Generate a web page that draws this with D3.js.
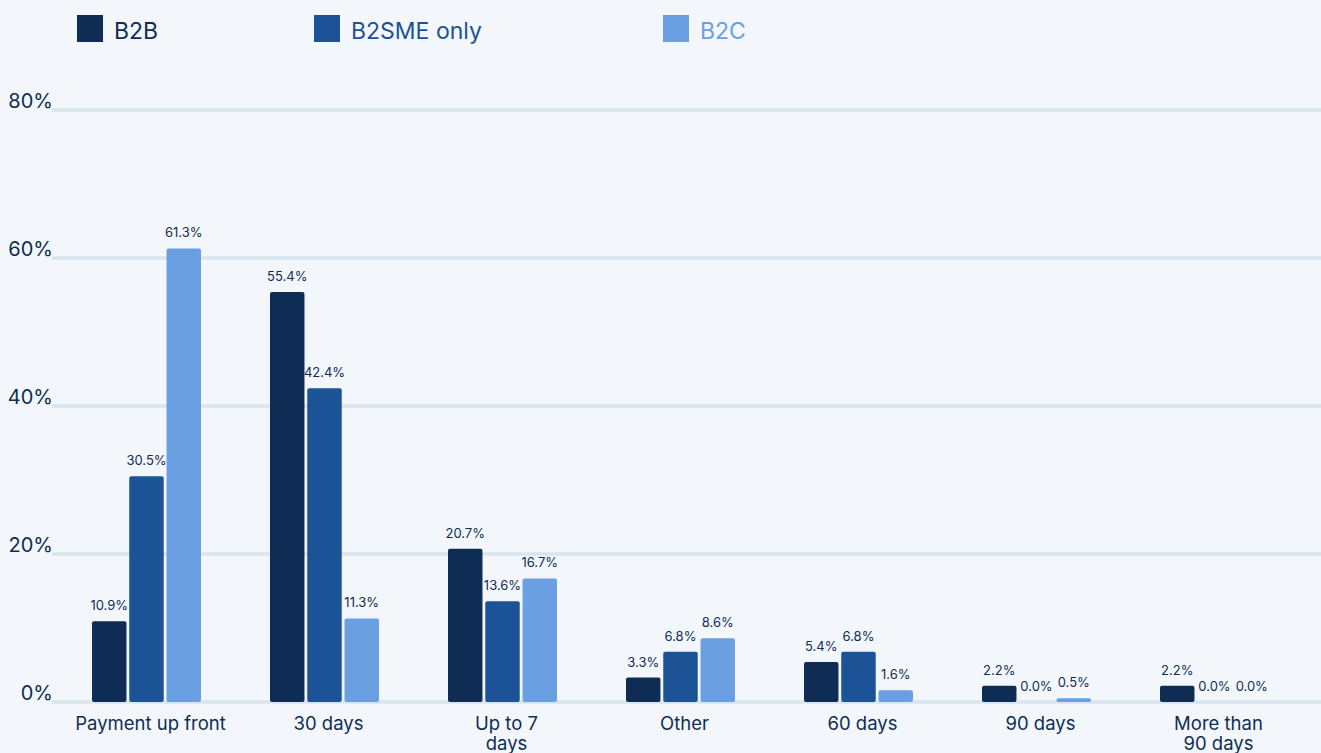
<!DOCTYPE html>
<html><head><meta charset="utf-8">
<script src="https://cdn.jsdelivr.net/npm/d3@7"></script>
<style>
html,body{margin:0;padding:0;background:#f3f7fc;}
svg{display:block;font-family:Inter,"Noto Sans",sans-serif;}
</style></head>
<body>
<svg id="chart" width="1321" height="753"></svg>
<script>
const categories = ["Payment up front","30 days","Up to 7 days","Other","60 days","90 days","More than 90 days"];
const categoryLines = [["Payment up front"],["30 days"],["Up to 7","days"],["Other"],["60 days"],["90 days"],["More than","90 days"]];
const seriesNames = ["B2B","B2SME only","B2C"];
const b2b   = [10.9, 55.4, 20.7, 3.3, 5.4, 2.2, 2.2];
const b2sme = [30.5, 42.4, 13.6, 6.8, 6.8, 0.0, 0.0];
const b2c   = [61.3, 11.3, 16.7, 8.6, 1.6, 0.5, 0.0];
const yTicks = [0, 20, 40, 60, 80];
const colors = ["#0f2d54", "#1c5296", "#6aa0e2"];

const series = [b2b, b2sme, b2c];
const svg = d3.select("#chart");
const W = 1321, H = 753;

// step 178, bandwidth 109
const x0 = d3.scaleBand().domain(categories).range([92, 92 + 6 * 178 + 109]).paddingInner(69 / 178).paddingOuter(0);
const x1 = d3.scaleBand().domain(seriesNames).range([0, x0.bandwidth()]).paddingInner(0.075);
const y = d3.scaleLinear().domain([0, 80]).range([702, 110]);

// gridlines
const grid = svg.append("g");
grid.selectAll("line").data(yTicks).join("line")
  .attr("x1", 52).attr("x2", W)
  .attr("y1", d => y(d)).attr("y2", d => y(d))
  .attr("stroke", "#d9e5ee").attr("stroke-width", 3.5);

// y labels
const yAxis = d3.axisLeft(y).tickValues(yTicks).tickFormat(d => d + "%").tickSize(0).tickPadding(0);
const ya = svg.append("g").attr("transform", "translate(53,-9)").call(yAxis);
ya.select(".domain").remove();
ya.selectAll("text").attr("fill", "#0f2d54").attr("font-size", 20).attr("font-family", "Inter, sans-serif");

// bars
const groups = svg.append("g").selectAll("g").data(categories).join("g")
  .attr("transform", c => `translate(${x0(c)},0)`);

groups.each(function(c, ci) {
  const g = d3.select(this);
  seriesNames.forEach((s, si) => {
    const v = series[si][ci];
    const bx = x1(s), bw = x1.bandwidth();
    if (v > 0) {
      g.append("rect")
        .attr("x", bx).attr("y", y(v))
        .attr("width", bw).attr("height", y(0) - y(v))
        .attr("rx", 2).attr("fill", colors[si]);
    }
    g.append("text")
      .attr("x", bx + bw / 2).attr("y", y(v) - 11)
      .attr("text-anchor", "middle")
      .attr("font-size", 13).attr("fill", "#0f2d54")
      .text(v.toFixed(1) + "%");
  });
});

// x labels
const xl = svg.append("g");
categories.forEach((c, ci) => {
  const cx = x0(c) + x0.bandwidth() / 2 + 4;
  const t = xl.append("text")
    .attr("x", cx)
    .attr("y", 730)
    .attr("text-anchor", "middle")
    .attr("font-size", 18.5).attr("fill", "#0f2d54");
  categoryLines[ci].forEach((ln, li) => {
    t.append("tspan").attr("x", cx).attr("dy", li === 0 ? 0 : 20).text(ln);
  });
});

// legend
const legendX = [77, 314, 663];
const legend = svg.append("g");
seriesNames.forEach((s, i) => {
  legend.append("rect").attr("x", legendX[i]).attr("y", 15).attr("width", 26).attr("height", 27).attr("fill", colors[i]);
  legend.append("text").attr("x", legendX[i] + 37).attr("y", 39)
    .attr("font-size", 23).attr("fill", colors[i]).text(s);
});
</script>
</body></html>
